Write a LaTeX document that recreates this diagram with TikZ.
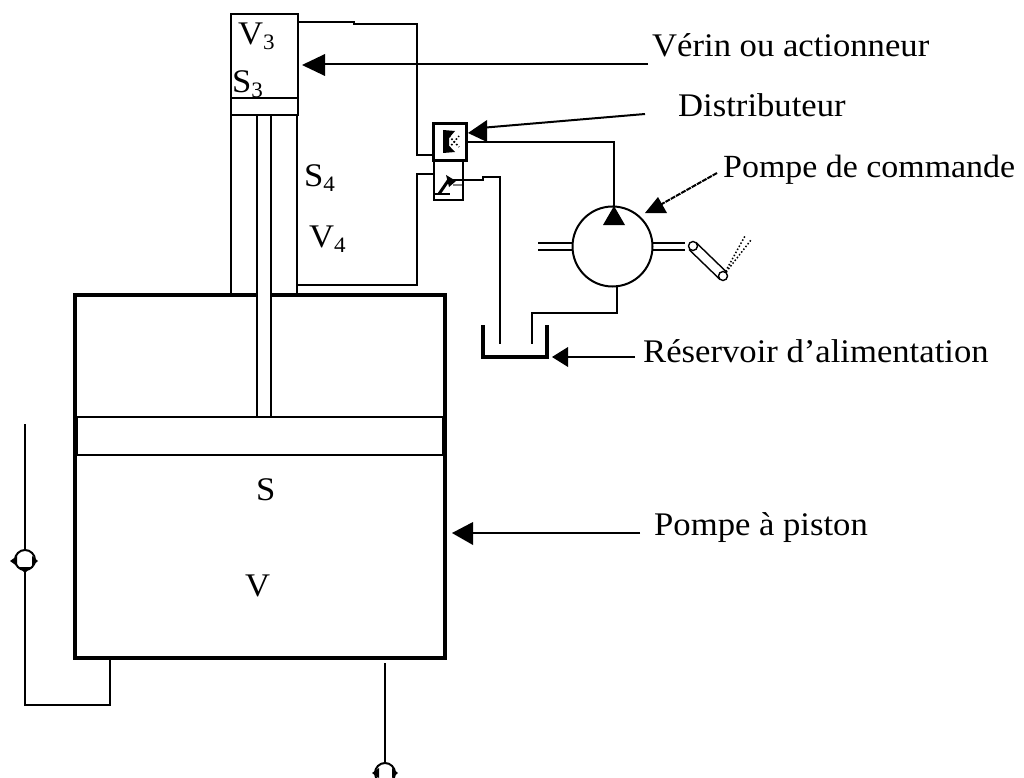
\documentclass[tikz,border=0pt]{standalone}
\usepackage{fontspec}
\setmainfont[FakeStretch=1.05]{Liberation Serif}
\tikzset{
  line/.style={draw=black,line width=2pt,line cap=rect},
  heavy/.style={draw=black,line width=4.5pt,line join=miter},
  pointer/.style={draw=black,line width=2pt},
  lab/.style={anchor=base west,inner sep=0pt,font=\fontsize{33}{33}\selectfont,text=black},
  valve/.style={draw=black,line width=2pt,fill=white,circle,minimum size=20pt,inner sep=0pt}
}
\newcommand{\subdigit}[1]{\raisebox{-5pt}{\fontsize{22}{22}\selectfont #1}}
\begin{document}
\begin{tikzpicture}[x=1pt,y=-1pt]
\useasboundingbox (0,0) rectangle (1024,778);
\clip (0,0) rectangle (1024,778);
% main pump body
\node[draw=black,line width=4.5pt,minimum width=370pt,minimum height=363pt,inner sep=0pt,outer sep=0pt] (body) at (260,476.5) {};
\node[draw=black,line width=2pt,minimum width=366pt,minimum height=38pt,inner sep=0pt,outer sep=0pt] (piston) at (260,436) {};
% actuator
\node[draw=black,line width=2pt,minimum width=67pt,minimum height=84pt,inner sep=0pt,outer sep=0pt] (chamber) at (264,56) {};
\node[draw=black,line width=2pt,minimum width=67pt,minimum height=17pt,inner sep=0pt,outer sep=0pt] (head) at (264,106.5) {};
\coordinate (wl0) at (231,115); \coordinate (wl1) at (231,295);
\coordinate (wr0) at (297,115); \coordinate (wr1) at (297,295);
\coordinate (r1a) at (257,115); \coordinate (r1b) at (257,417);
\coordinate (r2a) at (271,115); \coordinate (r2b) at (271,417);
\fill[white] (257,290) rectangle (271,300);
\draw[line] (wl0)--(wl1); \draw[line] (wr0)--(wr1);
\draw[line] (r1a)--(r1b); \draw[line] (r2a)--(r2b);
% distributor
\node[draw=black,line width=3pt,minimum width=33pt,minimum height=37pt,inner sep=0pt,outer sep=0pt] (dist) at (449.5,142) {};
\node[draw=black,line width=2pt,minimum width=29pt,minimum height=39pt,inner sep=0pt,outer sep=0pt] (distb) at (448,180.5) {};
\fill (443,130)--(455,131)--(449,138)--(449,146)--(455,152)--(443,153)--cycle;
\draw[line width=1.6pt,dotted] (449,136)--(459,147);
\draw[line width=1.6pt,dotted] (449,148)--(459,136);
\draw[line width=2pt] (434,194)--(450,194);
\draw[line width=3pt] (439,194)--(450,178);
\fill (446,175)--(456,181)--(449,187)--cycle;
\draw[line width=1.5pt] (453,180)--(462,180);
\draw[line width=1.5pt,gray] (453,185)--(462,185);
% hydraulic lines
\coordinate (a1) at (354,22); \coordinate (a2) at (354,24); \coordinate (a3) at (417,24); \coordinate (a4) at (417,155);
\draw[line] (chamber.east |- a1)--(a1)--(a2)--(a3)--(a4)--(dist.west |- a4);
\coordinate (b1) at (417,174); \coordinate (b2) at (417,285);
\draw[line] (distb.west |- b1)--(b1)--(b2)--(wr1 |- b2);
% pump
\node[draw=black,line width=2pt,circle,minimum size=80pt,inner sep=0pt,outer sep=0pt] (pump) at (612.5,246.5) {};
\coordinate (c1) at (614,142);
\draw[line width=2pt] (dist.east |- c1)--(c1)--(c1 |- pump.north);
\fill (614,206)--(625,225)--(603,225)--cycle;
\coordinate (sl) at (538,246.5); \coordinate (sr) at (685,246.5);
\draw[line width=1.8pt] ([yshift=-3.5pt]sl)--([yshift=-3.5pt]pump.west);
\draw[line width=1.8pt] ([yshift=3.5pt]sl)--([yshift=3.5pt]pump.west);
\draw[line width=1.8pt] ([yshift=-3.5pt]pump.east)--([yshift=-3.5pt]sr);
\draw[line width=1.8pt] ([yshift=3.5pt]pump.east)--([yshift=3.5pt]sr);
\draw[line width=1.8pt] (pump.east)+(0,-5)--+(0,5);
\draw[line width=1.8pt] (pump.west)+(0,-5)--+(0,5);
% lever
\draw[line width=1.4pt] (696,242.5)--(727,272.5);
\draw[line width=1.4pt] (689,249.5)--(720,279.5);
\node[draw=black,line width=1.4pt,fill=white,circle,minimum size=9pt,inner sep=0pt] (knob) at (693,246) {};
\node[draw=black,line width=1.4pt,fill=white,circle,minimum size=9pt,inner sep=0pt] (pivot) at (723,276) {};
\coordinate (tipa) at (745,236); \coordinate (tipb) at (751,240);
\draw[line width=1.5pt,dotted] (pivot)--(tipa);
\draw[line width=1.5pt,dotted] ([xshift=4pt,yshift=2pt]pivot)--(tipb);
% reservoir
\coordinate (t1) at (483,325); \coordinate (t2) at (483,357); \coordinate (t3) at (547,357); \coordinate (t4) at (547,325);
\draw[heavy] (t1)--(t2)--(t3)--(t4);
\coordinate (e1) at (483,180); \coordinate (e2) at (483,177); \coordinate (e3) at (500,177); \coordinate (e4) at (500,343);
\draw[line] (distb.east |- e1)--(e1)--(e2)--(e3)--(e4);
\coordinate (f0) at (617,286); \coordinate (f1) at (617,313); \coordinate (f2) at (532,313); \coordinate (f3) at (532,343);
\draw[line] (f0)--(f1)--(f2)--(f3);
% suction and delivery valves
\node[valve] (vL) at (25,560) {};
\coordinate (g0) at (25,425); \coordinate (g1) at (25,705); \coordinate (g2) at (110,705);
\draw[line] (g0)--(vL);
\draw[line] (vL)--(g1)--(g2)--(g2 |- body.south);
\fill (10,561)--(17,556)--(17,566)--cycle;
\fill (38,561)--(32,556)--(32,566)--cycle;
\fill (19,567)--(31,567)--(25,573)--cycle;
\node[valve] (vB) at (385,773) {};
\coordinate (h0) at (385,664);
\draw[line] (h0)--(vB);
\fill (372,773)--(379,768)--(379,778)--cycle;
\fill (398,773)--(392,768)--(392,778)--cycle;
% labels
\node[lab] (V3) at (238,45) {V\subdigit{3}};
\node[lab] (S3) at (232,93) {S\subdigit{3}};
\node[lab] (S4) at (304,186) {S\subdigit{4}};
\node[lab] (V4) at (309,247) {V\subdigit{4}};
\node[lab] (S) at (256,500) {S};
\node[lab] (V) at (245,596) {V};
\node[lab] (n1) at (652,57) {Vérin ou actionneur};
\node[lab] (n2) at (678,117) {Distributeur};
\node[lab,font=\fontsize{32.3}{33}\selectfont] (n3) at (723,177) {Pompe de commande};
\node[lab] (n4) at (643,362) {Réservoir d’alimentation};
\node[lab] (n5) at (654,535) {Pompe à piston};
% pointers
\coordinate (p1s) at (648,64.5); \coordinate (p1t) at (320,64.5);
\draw[pointer] (p1s)--(p1t);
\fill (302,65)--(325,54)--(325,76)--cycle;
\coordinate (p2s) at (645,114); \coordinate (p2t) at (480,128);
\draw[pointer] (p2s)--(p2t);
\fill (468,133)--(487,120)--(487,142)--cycle;
\coordinate (p3s) at (717,173); \coordinate (p3t) at (660,205);
\draw[pointer,dash pattern=on 5pt off 1pt] (p3s)--(p3t);
\fill (658,197)--(667,213)--(645,213)--cycle;
\coordinate (p4s) at (635,356.5); \coordinate (p4t) at (565,356.5);
\draw[pointer] (p4s)--(p4t);
\fill (552,357)--(568,347)--(568,367)--cycle;
\coordinate (p5s) at (640,533); \coordinate (p5t) at (470,533);
\draw[pointer] (p5s)--(p5t);
\fill (452,533)--(473,522)--(473,545)--cycle;
\end{tikzpicture}
\end{document}
